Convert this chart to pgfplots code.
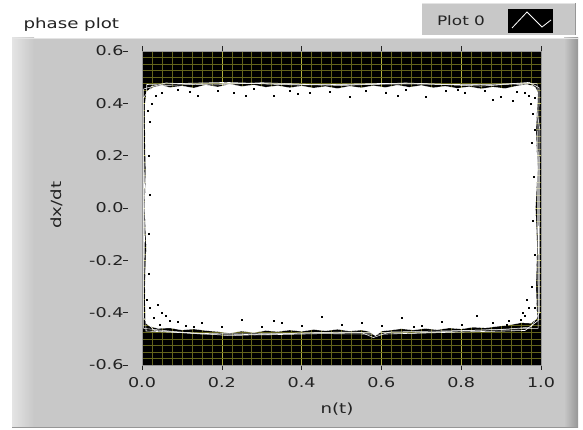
\documentclass[border=0pt]{standalone}
\usepackage{pgfplots}
\pgfplotsset{compat=1.18}
\usepackage{fontspec}
\setmainfont{DejaVu Sans}[FakeStretch=1.3]

\definecolor{panel}{RGB}{200,200,200}
\definecolor{panellight}{RGB}{228,228,228}
\definecolor{paneldark}{RGB}{150,150,150}
\definecolor{txt}{RGB}{35,35,35}
\definecolor{gridmajor}{RGB}{175,175,60}
\definecolor{gridminor}{RGB}{100,100,28}

\begin{document}
\begin{tikzpicture}
\path[use as bounding box] (0,0) rectangle (583pt,430pt);
\fill[white] (0,0) rectangle (583pt,430pt);
% front panel
\fill[panel] (12pt,2pt) rectangle (578pt,392pt);
\shade[left color=panellight, right color=panel] (12pt,2pt) rectangle (34pt,392pt);
\shade[left color=panel, right color=paneldark] (564pt,2pt) rectangle (578pt,392pt);
\draw[panellight, line width=1pt] (12pt,391.5pt) -- (578pt,391.5pt);
\draw[paneldark, line width=1pt] (12pt,2.5pt) -- (578pt,2.5pt);
% legend box
\fill[panel] (422pt,395pt) rectangle (575pt,427pt);
\draw[panellight, line width=1pt] (422pt,426.5pt) -- (575pt,426.5pt);
\draw[paneldark, line width=1pt] (575pt,395pt) -- (575pt,427pt);
\node[txt, font=\fontsize{13}{15}\selectfont] at (461pt,409pt) {Plot 0};
\fill[black] (508pt,397pt) rectangle (553pt,421pt);
\draw[white, line width=0.8pt] (512pt,402pt) -- (527pt,418pt) -- (542pt,403pt) -- (551pt,410pt);
% title and axis labels
\node[txt, anchor=west, font=\fontsize{14}{16}\selectfont] at (20pt,405pt) {phase plot};
\node[txt, font=\fontsize{14}{16}\selectfont] at (337pt,21pt) {n(t)};
\node[txt, rotate=90, font=\fontsize{14}{16}\selectfont] at (57pt,225pt) {dx/dt};

\begin{axis}[
    at={(142pt,65pt)}, anchor=south west,
    scale only axis, width=399pt, height=314pt,
    xmin=0, xmax=1, ymin=-0.6, ymax=0.6,
    xtick={0,0.2,0.4,0.6,0.8,1.0},
    ytick={-0.6,-0.4,-0.2,0,0.2,0.4,0.6},
    minor x tick num=7, minor y tick num=7,
    /pgf/number format/fixed,
    /pgf/number format/fixed zerofill,
    /pgf/number format/precision=1,
    /pgf/number format/assume math mode=true,
    ticklabel style={font=\fontsize{13.5}{15}\selectfont, text=txt},
    grid=both,
    major grid style={gridmajor, line width=0.6pt},
    minor grid style={gridminor, line width=0.5pt},
    axis background/.style={fill=black},
    axis line style={draw=paneldark, line width=0.5pt},
    tick align=outside,
    major tick length=5pt, minor tick length=0pt,
    tick style={txt, line width=0.6pt},
    ytick style={xshift=-14pt},
    yticklabel style={xshift=-10pt},
    xticklabel style={yshift=-4pt},
    clip=true,
]
% dense white trajectory cloud
\addplot[fill=white, draw=white, line width=0.4pt] coordinates {
(0.008,0.40) (0.012,0.445) (0.03,0.462) (0.05,0.468) (0.07,0.46) (0.10,0.466)
(0.13,0.458) (0.16,0.47) (0.19,0.462) (0.22,0.473) (0.25,0.464) (0.28,0.47)
(0.31,0.461) (0.34,0.467) (0.37,0.459) (0.40,0.466) (0.43,0.458) (0.46,0.464)
(0.49,0.456) (0.52,0.465) (0.55,0.459) (0.58,0.467) (0.61,0.46) (0.64,0.469)
(0.67,0.461) (0.70,0.468) (0.73,0.459) (0.76,0.465) (0.79,0.457) (0.82,0.463)
(0.85,0.455) (0.88,0.462) (0.91,0.456) (0.94,0.466) (0.965,0.472) (0.985,0.462)
(0.992,0.44) (0.987,0.30) (0.991,0.15) (0.986,0.0) (0.99,-0.15) (0.987,-0.30) (0.99,-0.42)
(0.975,-0.44) (0.95,-0.438) (0.92,-0.447) (0.89,-0.452) (0.86,-0.458) (0.83,-0.455)
(0.80,-0.462) (0.77,-0.458) (0.74,-0.465) (0.71,-0.46) (0.68,-0.466) (0.65,-0.461)
(0.62,-0.467) (0.60,-0.47) (0.585,-0.488) (0.57,-0.472) (0.55,-0.466) (0.52,-0.47)
(0.49,-0.463) (0.46,-0.469) (0.43,-0.464) (0.40,-0.471) (0.37,-0.466) (0.34,-0.472)
(0.31,-0.468) (0.28,-0.476) (0.25,-0.47) (0.22,-0.478) (0.19,-0.472) (0.16,-0.468)
(0.13,-0.462) (0.10,-0.466) (0.07,-0.458) (0.04,-0.46) (0.02,-0.452) (0.01,-0.44)
(0.008,-0.30) (0.011,-0.15) (0.007,0.0) (0.01,0.15) (0.008,0.30) (0.008,0.40)
};
% outer trajectory loops
\addplot[white, line width=0.6pt] coordinates {
(0.012,0.472) (0.10,0.476) (0.21,0.480) (0.33,0.474) (0.45,0.471) (0.60,0.476)
(0.74,0.473) (0.88,0.470) (0.97,0.480) (0.995,0.46) (0.994,0.0) (0.993,-0.43)
(0.96,-0.468) (0.80,-0.474) (0.60,-0.482) (0.45,-0.480) (0.30,-0.485) (0.12,-0.478)
(0.01,-0.47) (0.005,0.0) (0.012,0.472)
};
\addplot[white, line width=0.5pt] coordinates {
(0.025,0.466) (0.15,0.474) (0.27,0.476) (0.39,0.470) (0.55,0.472) (0.70,0.475)
(0.85,0.466) (0.93,0.474) (0.98,0.468) (0.997,0.30) (0.996,-0.40) (0.975,-0.455)
(0.90,-0.465) (0.75,-0.470) (0.62,-0.474) (0.58,-0.495) (0.55,-0.476) (0.40,-0.478)
(0.22,-0.488) (0.08,-0.472) (0.004,-0.46) (0.003,0.42) (0.025,0.466)
};
\addplot[white, line width=0.5pt] coordinates {
(0.004,0.455) (0.06,0.478) (0.18,0.470) (0.30,0.479) (0.50,0.468) (0.66,0.478)
(0.80,0.470) (0.955,0.476) (0.99,0.475) (0.993,-0.46) (0.93,-0.462) (0.82,-0.468)
(0.68,-0.478) (0.50,-0.474) (0.35,-0.480) (0.15,-0.482) (0.03,-0.468) (0.004,-0.42) (0.004,0.455)
};
% gaps in the cloud near its edges
\addplot[only marks, mark=square*, mark size=0.5pt, black] coordinates {
(0.05,0.44) (0.09,0.452) (0.14,0.431) (0.19,0.448) (0.23,0.44) (0.28,0.455)
(0.33,0.428) (0.37,0.45) (0.42,0.442) (0.47,0.446) (0.52,0.425) (0.56,0.449)
(0.61,0.44) (0.66,0.451) (0.71,0.427) (0.76,0.447) (0.81,0.44) (0.86,0.45)
(0.90,0.426) (0.94,0.445) (0.97,0.43) (0.975,0.40) (0.98,0.36) (0.976,0.25)
(0.982,0.12) (0.978,-0.05) (0.983,-0.18) (0.976,-0.30) (0.97,-0.38) (0.96,-0.41)
(0.95,-0.425) (0.92,-0.43) (0.88,-0.44) (0.84,-0.412) (0.80,-0.445) (0.75,-0.436)
(0.70,-0.448) (0.65,-0.42) (0.60,-0.45) (0.55,-0.438) (0.50,-0.446) (0.45,-0.415)
(0.40,-0.45) (0.35,-0.44) (0.30,-0.452) (0.25,-0.425) (0.20,-0.455) (0.15,-0.44)
(0.11,-0.45) (0.07,-0.43) (0.05,-0.40) (0.04,-0.37) (0.03,-0.42) (0.02,-0.38)
(0.018,-0.25) (0.016,-0.10) (0.02,0.05) (0.017,0.20) (0.02,0.33) (0.025,0.40)
(0.06,-0.41) (0.09,-0.435) (0.93,0.41) (0.96,0.44) (0.035,0.43)
(0.12,0.445) (0.26,0.43) (0.39,0.437) (0.64,0.43) (0.79,0.452) (0.88,0.415)
(0.955,-0.40) (0.965,-0.35) (0.985,0.42) (0.915,-0.445) (0.68,-0.452) (0.33,-0.43)
(0.13,-0.455) (0.045,-0.445) (0.012,-0.35) (0.014,0.37) (0.985,-0.38) (0.984,0.30)
};
\end{axis}
\end{tikzpicture}
\end{document}
